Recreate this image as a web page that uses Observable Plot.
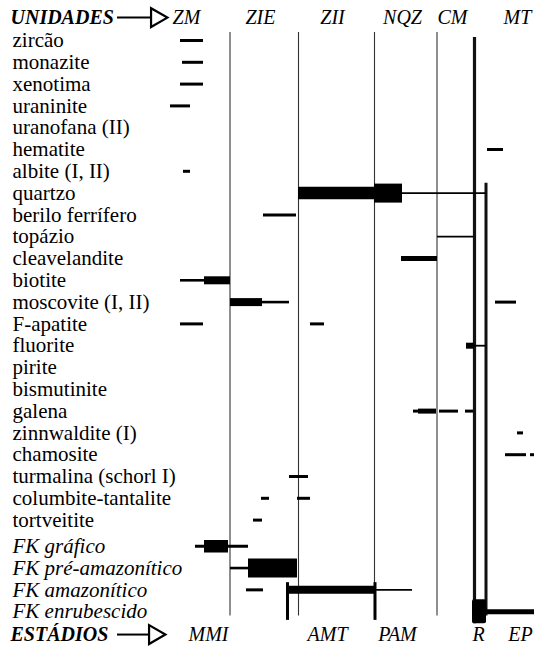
<!DOCTYPE html>
<html>
<head>
<meta charset="utf-8">
<script src="https://cdn.jsdelivr.net/npm/d3@7"></script>
<script src="https://cdn.jsdelivr.net/npm/@observablehq/plot@0.6"></script>
<style>
  html, body { margin: 0; padding: 0; background: #fff; }
  svg { display: block; }
</style>
</head>
<body>
<div id="chart"></div>
<script>
// ---- data ----
const minerals = ["zircão","monazite","xenotima","uraninite","uranofana (II)","hematite","albite (I, II)","quartzo","berilo ferrífero","topázio","cleavelandite","biotite","moscovite (I, II)","F-apatite","fluorite","pirite","bismutinite","galena","zinnwaldite (I)","chamosite","turmalina (schorl I)","columbite-tantalite","tortveitite"];
const feldspars = ["FK gráfico","FK pré-amazonítico","FK amazonítico","FK enrubescido"];

const units = ["ZM","ZIE","ZII","NQZ","CM","MT"];
const unitTime = [186, 260, 332, 402, 452, 517];
const stages = ["MMI","AMT","PAM","R","EP"];
const stageTime = [208, 327, 397, 478, 520];

const boundaryTime = [229.5, 298, 374, 436.5];
const rBoundary = [474, 485.5];

// occurrence intervals: [mineral, start, end, abundance]
const occurrences = [
  ["zircão", 180, 203, 2],
  ["monazite", 182, 203, 2],
  ["xenotima", 180, 203, 2],
  ["uraninite", 170, 190, 2],
  ["hematite", 487, 503, 2],
  ["albite (I, II)", 183, 190, 2],
  ["quartzo", 298, 374, 5],
  ["quartzo", 374, 402, 6],
  ["quartzo", 402, 486, 1],
  ["berilo ferrífero", 263, 296, 2],
  ["topázio", 437, 474, 1],
  ["cleavelandite", 401, 437, 3],
  ["biotite", 180, 204, 1.5],
  ["biotite", 204, 230, 4],
  ["moscovite (I, II)", 230, 262, 4],
  ["moscovite (I, II)", 262, 289, 1.5],
  ["moscovite (I, II)", 495, 516, 2],
  ["F-apatite", 180, 203, 2],
  ["F-apatite", 310, 324, 2],
  ["fluorite", 466, 474, 3.5],
  ["fluorite", 474, 486, 1],
  ["galena", 413, 418, 2],
  ["galena", 418, 436, 3],
  ["galena", 439, 458, 2],
  ["galena", 465, 473, 2],
  ["zinnwaldite (I)", 517, 523, 2],
  ["chamosite", 505, 526, 2],
  ["chamosite", 530, 534, 2],
  ["turmalina (schorl I)", 289, 308, 2],
  ["columbite-tantalite", 261, 269, 2],
  ["columbite-tantalite", 297, 310, 2],
  ["tortveitite", 253, 262, 2],
  ["FK gráfico", 195, 248, 2],
  ["FK gráfico", 204, 228, 5],
  ["FK pré-amazonítico", 230, 248, 1.5],
  ["FK pré-amazonítico", 248, 297, 6],
  ["FK amazonítico", 246, 263, 2],
  ["FK amazonítico", 289, 375, 4],
  ["FK amazonítico", 375, 412, 1],
  ["FK enrubescido", 486, 534, 3]
];
const amazMarks = [287, 374.5];
const enrubBlock = [472, 486];

// ---- font detection ----
function hasFont(name) {
  const c = document.createElement("canvas").getContext("2d");
  const s = "mmmmmmmmmmlliWWWwwwIIIiii0123";
  let differs = false;
  for (const base of ["monospace", "sans-serif", "serif"]) {
    c.font = `40px ${base}`;
    const w0 = c.measureText(s).width;
    c.font = `40px "${name}", ${base}`;
    const w1 = c.measureText(s).width;
    if (Math.abs(w1 - w0) > 0.5) differs = true;
  }
  return differs;
}
const serifCandidates = ["Liberation Serif", "Times New Roman", "Tinos", "Nimbus Roman", "FreeSerif", "DejaVu Serif", "Noto Serif"];
const found = serifCandidates.find(hasFont);
const serif = found ? `"${found}"` : "\"Liberation Sans\", sans-serif";
const fs = found ? 21 : 18.5;
const hs = found ? 20 : 18;

// ---- layout helpers ----
const widthOf = {1: 1.8, 1.5: 2.6, 2: 3, 3: 5, 3.5: 6, 4: 8, 5: 12.5, 6: 19};
const rowY = new Map();
minerals.forEach((m, i) => rowY.set(m, i));
feldspars.forEach((m, i) => rowY.set(m, minerals.length + 0.2 + i));
const lastRow = minerals.length + 0.2 + feldspars.length - 1;
const headY = -1.05, footY = 27.25;

const segs = occurrences.map(([m, a, b, w]) => ({m, a, b, w, y: rowY.get(m)}));
const enrubY = rowY.get("FK enrubescido");
const amazY = rowY.get("FK amazonítico");

const chart = Plot.plot({
  width: 534,
  height: 647,
  margin: 0,
  x: {type: "linear", domain: [0, 534], range: [0, 534], axis: null},
  y: {type: "linear", domain: [0, lastRow], range: [40, 40 + lastRow * 21.8], axis: null},
  marks: [
    Plot.ruleX(boundaryTime, {x: d => d, y1: -0.37, y2: lastRow + 0.2, stroke: "#333", strokeWidth: 1.1}),
    Plot.ruleX([rBoundary[0]], {x: d => d, y1: -0.14, y2: lastRow + 0.55, stroke: "#111", strokeWidth: 3.2}),
    Plot.ruleX([rBoundary[1]], {x: d => d, y1: rowY.get("quartzo") - 0.45, y2: lastRow + 0.2, stroke: "#111", strokeWidth: 3}),
    Plot.ruleY(segs, {x1: "a", x2: "b", y: "y", stroke: "#000", strokeWidth: d => widthOf[d.w]}),
    Plot.ruleX(amazMarks, {x: d => d, y1: amazY - 0.33, y2: lastRow + 0.4, stroke: "#000", strokeWidth: 3}),
    Plot.rect([enrubBlock], {x1: d => d[0], x2: d => d[1], y1: enrubY - 0.55, y2: enrubY + 0.55, fill: "#000", rx: 2}),
    Plot.text(minerals, {x: 12, y: d => rowY.get(d), text: d => d, textAnchor: "start", fontSize: fs, fontFamily: serif, fill: "#000"}),
    Plot.text(feldspars, {x: 12, y: d => rowY.get(d), text: d => d, textAnchor: "start", fontSize: fs, fontFamily: serif, fontStyle: "italic", fill: "#000"}),
    Plot.text(["UNIDADES"], {x: 10, y: headY, text: d => d, textAnchor: "start", fontSize: hs, fontFamily: serif, fontWeight: "bold", fontStyle: "italic", fill: "#000"}),
    Plot.ruleY([headY], {x1: 117, x2: 150, y: d => d, stroke: "#000", strokeWidth: 2}),
    Plot.dot([headY], {x: 156, y: d => d, symbol: "triangle", rotate: 90, r: 7, stroke: "#000", strokeWidth: 2.2, fill: "#fff"}),
    Plot.text(units, {x: (d, i) => unitTime[i], y: headY, text: d => d, fontSize: hs, fontFamily: serif, fontStyle: "italic", fill: "#000"}),
    Plot.text(["ESTÁDIOS"], {x: 10, y: footY, text: d => d, textAnchor: "start", fontSize: hs, fontFamily: serif, fontWeight: "bold", fontStyle: "italic", fill: "#000"}),
    Plot.ruleY([footY], {x1: 117, x2: 148, y: d => d, stroke: "#000", strokeWidth: 2}),
    Plot.dot([footY], {x: 154, y: d => d, symbol: "triangle", rotate: 90, r: 7, stroke: "#000", strokeWidth: 2.2, fill: "#fff"}),
    Plot.text(stages, {x: (d, i) => stageTime[i], y: footY, text: d => d, fontSize: hs, fontFamily: serif, fontStyle: "italic", fill: "#000"})
  ]
});
document.getElementById("chart").appendChild(chart);
</script>
</body>
</html>
